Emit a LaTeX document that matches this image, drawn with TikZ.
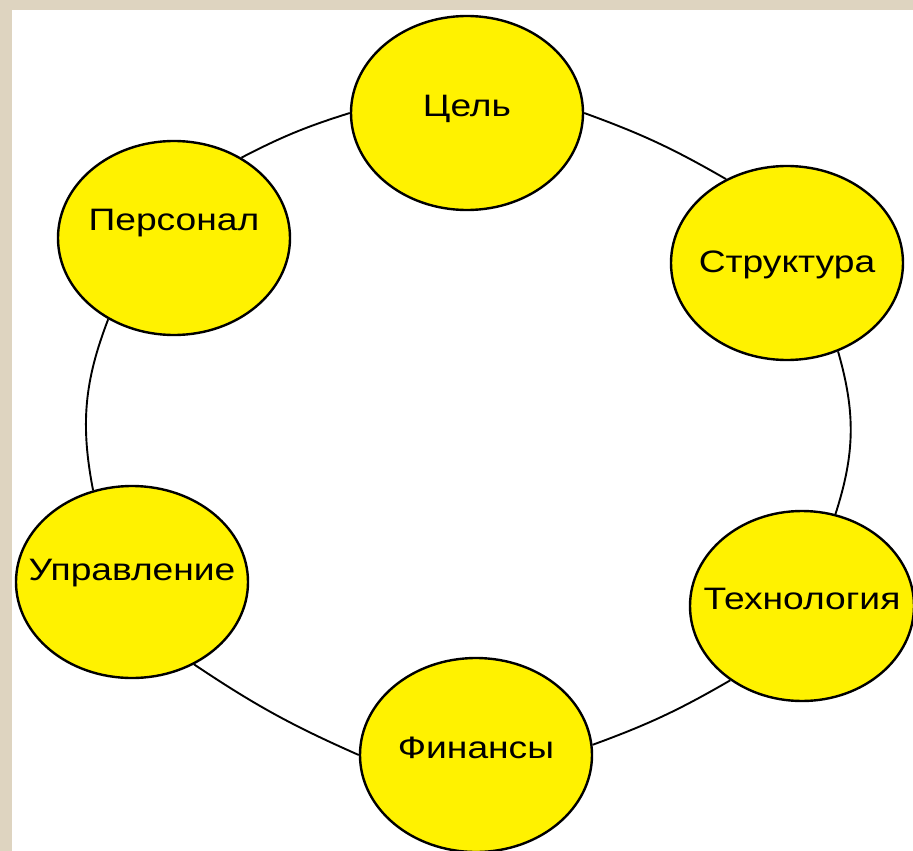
\documentclass[tikz,border=0pt]{standalone}
\usepackage{fontspec}
\setmainfont{Liberation Sans}
\usepackage{graphicx}
\usetikzlibrary{shapes.geometric}

\definecolor{paper}{RGB}{222,212,192}
\newcommand{\lbl}[1]{\makebox[0pt]{\scalebox{1.2}[1]{#1}}}

\begin{document}
\begin{tikzpicture}[x=1pt, y=-1pt,
    station/.style={ellipse, draw, fill=yellow, line width=2.4pt, inner sep=0pt,
      minimum width=232pt, minimum height=194pt, text height=14pt, text depth=8pt,
      font=\fontsize{31}{31}\selectfont},
    link/.style={line width=1.9pt, bend left=#1}, link/.default=5]
    \useasboundingbox (0,0) rectangle (913,851);
    \fill[paper] (0,0) rectangle (913,851);
    \fill[white] (12,10) rectangle (913,851);

    \node[station] (cel) at (467,113) {\lbl{Цель}};
    \node[station, text height=20pt, text depth=2pt] (str) at (787,263) {\lbl{Структура}};
    \node[station, minimum width=224pt, minimum height=190pt] (tech) at (802,606) {\lbl{Технология}};
    \node[station] (fin) at (476,755) {\lbl{Финансы}};
    \node[station, minimum height=192pt, text depth=18pt] (upr) at (132,582) {\lbl{Управление}};
    \node[station, text depth=30pt] (pers) at (174,238) {\lbl{Персонал}};

    \draw[link] (cel.east) to (str.126);
    \draw[link=17] (str.-60) to (tech.70);
    \draw[link] (tech.-134) to (fin.5);
    \draw[link] (fin.west) to (upr.-53);
    \draw[link=16] (upr.113) to (pers.-129);
    \draw[link] (pers.50) to (cel.west);
\end{tikzpicture}
\end{document}
